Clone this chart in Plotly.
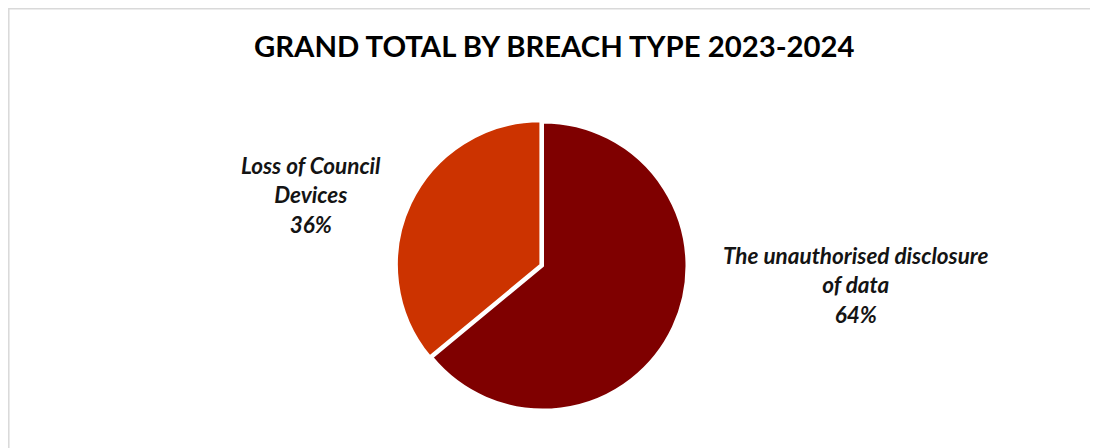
import plotly.graph_objects as go

# Data
labels = ["The unauthorised disclosure of data", "Loss of Council Devices"]
label_display = ["The unauthorised disclosure<br>of data", "Loss of Council<br>Devices"]
values = [64, 36]
colors = ["#7F0000", "#CC3300"]
title_text = "GRAND TOTAL BY BREACH TYPE 2023-2024"

# page body has an 8px margin; figure coordinates are page coordinates - 8
OFF = 8
W, H = 1090, 440
cx, cy, r = 543 - OFF, 266 - OFF, 143.5
pull = [0, 0.02]
rr = r * (1 + max(pull))

fig = go.Figure(go.Pie(
    labels=labels, values=values, sort=False, direction="clockwise", rotation=0,
    marker=dict(colors=colors, line=dict(color="white", width=2)),
    pull=pull, textinfo="none", hoverinfo="label+percent", showlegend=False,
    domain=dict(x=[(cx - rr) / W, (cx + rr) / W], y=[(H - cy - rr) / H, (H - cy + rr) / H]),
))

total = sum(values)
label_pos = [(856 - OFF, 285 - OFF), (311 - OFF, 195 - OFF)]
annotations = []
for disp, v, (lx, ly) in zip(label_display, values, label_pos):
    annotations.append(dict(
        text=f"<b><i>{disp}<br>{round(100 * v / total)}%</i></b>",
        x=lx / W, y=1 - ly / H, xref="paper", yref="paper",
        xanchor="center", yanchor="middle", showarrow=False, align="center",
        font=dict(family="Lato", size=22.5, color="#141414"),
    ))
annotations.append(dict(
    text=f"<b>{title_text}</b>", x=(555 - OFF) / W, y=1 - (45 - OFF) / H,
    xref="paper", yref="paper",
    xanchor="center", yanchor="middle", showarrow=False,
    font=dict(family="Lato", size=29.3, color="#000000"),
))

fig.update_layout(
    width=W, height=H, margin=dict(l=0, r=0, t=0, b=0),
    paper_bgcolor="white", plot_bgcolor="white",
    annotations=annotations,
    shapes=[dict(type="rect", xref="paper", yref="paper",
                 x0=0.8 / W, x1=1.02, y0=-0.02, y1=1 - 0.8 / H,
                 line=dict(color="#D9D9D9", width=1.5), layer="below")],
)

fig.write_html("out.html")
